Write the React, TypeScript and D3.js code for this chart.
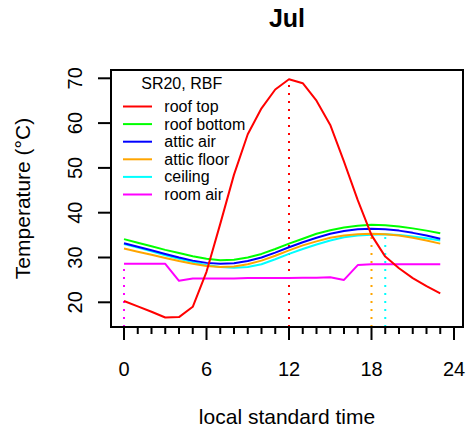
import React from "react";
import * as d3 from "d3";

// Hourly temperatures (°C), July, SR20 roof with radiant barrier
const hours = d3.range(0, 24);
const roofTop = [20.3, 19.1, 17.9, 16.6, 16.7, 19.0, 26.8, 37.5, 48.5, 57.5, 63.3, 67.5, 69.8, 68.9, 65.0, 59.6, 51.4, 42.8, 35.0, 30.2, 27.6, 25.4, 23.6, 22.0];
const roofBottom = [34.1, 33.3, 32.5, 31.7, 31.0, 30.3, 29.7, 29.4, 29.5, 30.0, 30.8, 31.9, 33.1, 34.2, 35.3, 36.1, 36.7, 37.1, 37.3, 37.2, 36.9, 36.5, 36.0, 35.4];
const atticAir = [33.2, 32.4, 31.6, 30.8, 30.0, 29.3, 28.8, 28.6, 28.7, 29.2, 30.0, 31.1, 32.3, 33.4, 34.4, 35.3, 35.9, 36.3, 36.4, 36.3, 36.0, 35.5, 34.9, 34.2];
const atticFloor = [32.0, 31.3, 30.6, 29.9, 29.2, 28.6, 28.1, 27.9, 28.0, 28.5, 29.3, 30.4, 31.6, 32.7, 33.6, 34.4, 34.9, 35.2, 35.3, 35.2, 34.9, 34.4, 33.8, 33.1];
const ceiling = [33.0, 32.2, 31.4, 30.5, 29.7, 29.0, 28.3, 27.9, 27.7, 27.9, 28.5, 29.6, 30.8, 31.9, 32.9, 33.8, 34.5, 34.9, 35.1, 35.2, 35.0, 34.7, 34.3, 33.8];
const roomAir = [28.6, 28.6, 28.6, 28.6, 24.8, 25.3, 25.3, 25.3, 25.3, 25.4, 25.4, 25.4, 25.4, 25.5, 25.5, 25.6, 25.0, 28.3, 28.5, 28.5, 28.5, 28.5, 28.5, 28.5];

const seriesNames = ["roof top", "roof bottom", "attic air", "attic floor", "ceiling", "room air"];
const seriesColors = ["#ff0000", "#00ff00", "#0000ff", "#ffa500", "#00ffff", "#ff00ff"];
const seriesValues = [roofTop, roofBottom, atticAir, atticFloor, ceiling, roomAir];
// series whose peak time is marked with a dotted drop line
const markPeak = [true, false, false, true, true, true];

const xTicks = [0, 6, 12, 18, 24];
const xMinorTicks = d3.range(0, 25);
const yTicks = [20, 30, 40, 50, 60, 70];

const W = 466;
const H = 428;
const box = { left: 111, right: 463, top: 70, bottom: 327 };
const FONT = "'Liberation Sans', Arial, Helvetica, sans-serif";

export default function App() {
  const x = d3.scaleLinear().domain([0, 24]).range([124, 454]);
  const y = d3.scaleLinear().domain([20, 70]).range([302.3, 78.3]);
  const line = d3
    .line<number>()
    .x((_, i) => x(hours[i]))
    .y((d) => y(d));

  const peaks = seriesValues.map((vals) => {
    const i = d3.maxIndex(vals);
    return { hour: hours[i], value: vals[i] };
  });

  const legendX = 123;
  const legendY0 = 106.5;
  const legendStep = 17.6;

  return (
    <svg
      width={W}
      height={H}
      style={{ position: "absolute", left: 0, top: 0, background: "#fff" }}
      fontFamily={FONT}
    >
      <text x={(box.left + box.right) / 2} y={27} textAnchor="middle" fontSize={25} fontWeight="bold">
        Jul
      </text>

      {/* dotted drop lines at peak times */}
      {peaks.map((p, k) =>
        markPeak[k] ? (
          <line
            key={"peak" + k}
            x1={x(p.hour)}
            x2={x(p.hour)}
            y1={box.bottom}
            y2={y(p.value)}
            stroke={seriesColors[k]}
            strokeWidth={2}
            strokeDasharray="2,6"
          />
        ) : null
      )}

      {/* series lines, room air first so roof top sits on top */}
      {seriesValues
        .map((vals, k) => ({ vals, k }))
        .reverse()
        .map(({ vals, k }) => (
          <path
            key={"s" + k}
            d={line(vals) || ""}
            fill="none"
            stroke={seriesColors[k]}
            strokeWidth={2}
            strokeLinejoin="round"
          />
        ))}

      {/* plot frame */}
      <rect
        x={box.left}
        y={box.top}
        width={box.right - box.left}
        height={box.bottom - box.top}
        fill="none"
        stroke="#000"
        strokeWidth={2}
      />

      {/* x axis */}
      {xMinorTicks.map((t) => (
        <line
          key={"xm" + t}
          x1={x(t)}
          x2={x(t)}
          y1={box.bottom}
          y2={box.bottom + (t % 6 === 0 ? 13 : 7)}
          stroke="#000"
          strokeWidth={2}
        />
      ))}
      {xTicks.map((t) => (
        <text key={"xl" + t} x={x(t)} y={375.5} textAnchor="middle" fontSize={20}>
          {t}
        </text>
      ))}
      <text x={(box.left + box.right) / 2} y={423.5} textAnchor="middle" fontSize={21}>
        local standard time
      </text>

      {/* y axis */}
      {yTicks.map((t) => (
        <g key={"y" + t}>
          <line x1={box.left} x2={box.left - 13} y1={y(t)} y2={y(t)} stroke="#000" strokeWidth={2} />
          <text
            x={82}
            y={y(t)}
            textAnchor="middle"
            fontSize={20}
            transform={`rotate(-90, 82, ${y(t)})`}
          >
            {t}
          </text>
        </g>
      ))}
      <text
        x={30}
        y={(box.top + box.bottom) / 2}
        textAnchor="middle"
        fontSize={21}
        transform={`rotate(-90, 30, ${(box.top + box.bottom) / 2})`}
      >
        Temperature (°C)
      </text>

      {/* legend */}
      <text x={181.7} y={89} textAnchor="middle" fontSize={16}>
        SR20, RBF
      </text>
      {seriesNames.map((name, k) => {
        const ly = legendY0 + k * legendStep;
        return (
          <g key={"lg" + k}>
            <line x1={legendX} x2={legendX + 29} y1={ly} y2={ly} stroke={seriesColors[k]} strokeWidth={2} />
            <text x={164.3} y={ly + 5.5} fontSize={16}>
              {name}
            </text>
          </g>
        );
      })}
    </svg>
  );
}
